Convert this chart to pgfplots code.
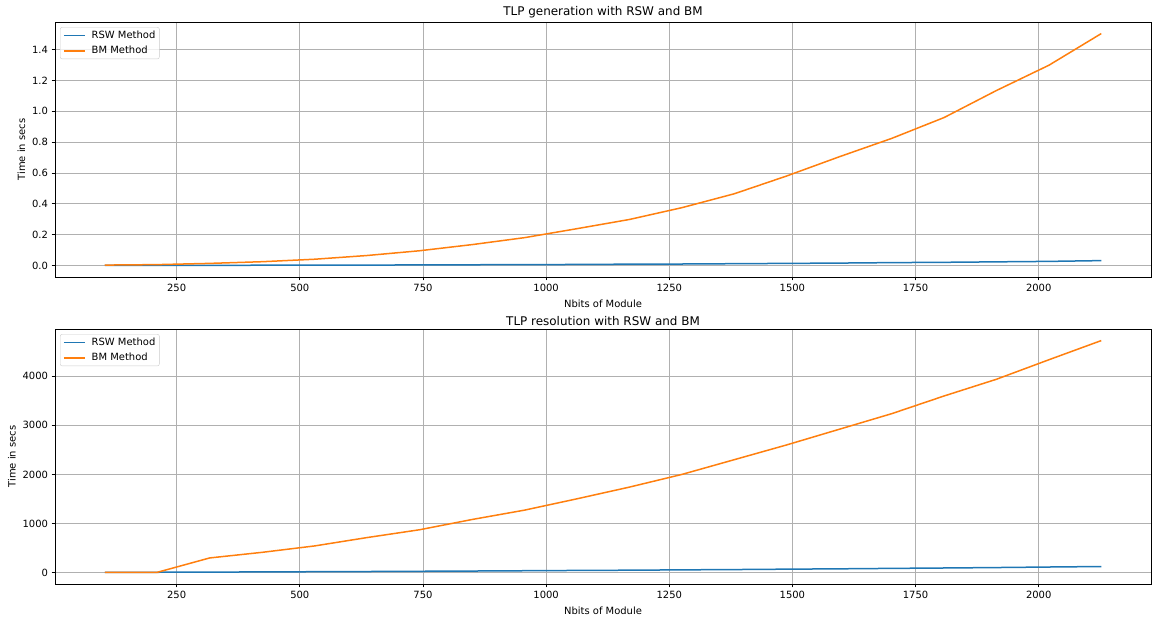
\documentclass[border=0pt]{standalone}
\usepackage{fontspec}
\setmainfont{DejaVu Sans}
\usepackage{pgfplots}
\usepackage{pgfplotstable}
\pgfplotsset{compat=1.18}
\definecolor{c0}{HTML}{1F77B4}
\definecolor{c1}{HTML}{FF7F0E}
\definecolor{gridc}{HTML}{B0B0B0}

\pgfplotstableread{
x rsw bm
104 0.0000 0.002
210 0.0003 0.005
317 0.0006 0.013
424 0.0010 0.024
530 0.0015 0.040
636 0.0020 0.064
743 0.0030 0.095
850 0.0040 0.135
956 0.0050 0.180
1062 0.0060 0.238
1169 0.0080 0.298
1276 0.0090 0.375
1382 0.0110 0.465
1488 0.0130 0.580
1595 0.0150 0.705
1702 0.0180 0.825
1808 0.0200 0.960
1914 0.0230 1.135
2021 0.0260 1.300
2127 0.0310 1.505
}\gen

\pgfplotstableread{
x rsw bm
104 1 0
210 3 0
317 6 295
424 10 410
530 14 540
636 18 710
743 23 870
850 28 1080
956 34 1270
1062 40 1500
1169 45 1740
1276 52 2000
1382 58 2300
1488 66 2600
1595 73 2920
1702 82 3240
1808 90 3600
1914 99 3940
2021 110 4340
2127 120 4730
}\res

\pgfplotsset{mpl/.style={
  scale only axis, width=1096bp, height=255bp,
  xmin=3, xmax=2228,
  xtick={250,500,...,2000},
  grid=major, major grid style={gridc, line width=0.8bp},
  axis line style={black, line width=0.8bp},
  tick style={black, line width=0.8bp},
  tick align=outside, major tick length=3.5bp,
  tick pos=left,
  tick label style={font=\fontsize{10}{12}\selectfont},
  label style={font=\fontsize{10}{12}\selectfont},
  title style={font=\fontsize{12}{14}\selectfont, yshift=-6bp},
  /pgf/number format/assume math mode=true,
  /pgf/number format/1000 sep={},
  xlabel={Nbits of Module}, ylabel={Time in secs},
  xlabel style={yshift=-2bp},
  legend cell align=left,
  legend style={at={(0.0046,0.98)}, anchor=north west, draw=black!20,
    rounded corners=2bp, fill=white, fill opacity=0.8, text opacity=1,
    font=\fontsize{10}{12}\selectfont, inner xsep=3bp, inner ysep=2.5bp,
    row sep=4.5bp, column sep=5bp,
    nodes={inner sep=1bp}},
  legend image code/.code={\draw[line width=1.5bp, opacity=1] (0bp,0bp) -- (21bp,0bp);},
  every axis plot/.append style={line width=1.5bp},
}}

\begin{document}
\begin{tikzpicture}[x=1bp,y=1bp]
\useasboundingbox (0,0) rectangle (1157,617);
\begin{axis}[mpl, at={(55bp,340bp)}, anchor=south west,
  title={TLP generation with RSW and BM},
  ymin=-0.0753, ymax=1.5803,
  ytick={0,0.2,...,1.4},
  yticklabel style={/pgf/number format/.cd, fixed, fixed zerofill, precision=1},
]
\addplot[c0] table[x=x,y=rsw] {\gen};
\addplot[c1] table[x=x,y=bm] {\gen};
\legend{RSW Method, BM Method}
\end{axis}
\begin{axis}[mpl, at={(55bp,33bp)}, anchor=south west,
  title={TLP resolution with RSW and BM},
  ymin=-236.5, ymax=4966.5,
  ytick={0,1000,...,4000},
  scaled y ticks=false,
]
\addplot[c0] table[x=x,y=rsw] {\res};
\addplot[c1] table[x=x,y=bm] {\res};
\legend{RSW Method, BM Method}
\end{axis}
\end{tikzpicture}
\end{document}
